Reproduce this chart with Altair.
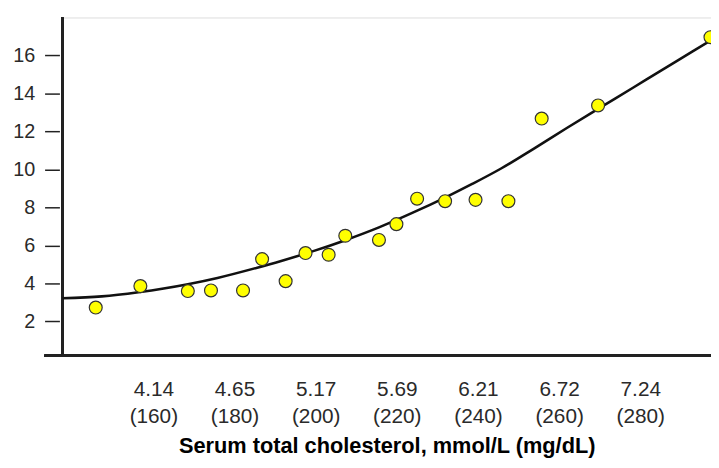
import altair as alt
import pandas as pd

# Scatter data: serum cholesterol (mg/dL) vs rate
chol_mg = [145.8, 156.8, 168.5, 174.2, 182.1, 186.8, 192.6, 197.5, 203.2, 207.3,
           215.6, 219.9, 225.0, 231.9, 239.4, 247.5, 255.7, 269.6, 297.3]
rate = [2.73, 3.86, 3.60, 3.63, 3.63, 5.28, 4.12, 5.60, 5.51, 6.51,
        6.29, 7.12, 8.46, 8.33, 8.40, 8.33, 12.68, 13.37, 16.96]

# Fitted curve
curve_mg = [137.6, 147.3, 156.3, 168.5, 175.8, 185.6, 191.3, 199.4, 207.5, 215.6,
            223.8, 231.9, 238.7, 245.7, 253.8, 261.9, 270.1, 278.2, 284.7, 292.8, 297.4]
curve_rate = [3.22, 3.32, 3.54, 3.96, 4.29, 4.83, 5.17, 5.70, 6.29, 6.95,
              7.71, 8.52, 9.25, 10.05, 11.10, 12.18, 13.25, 14.30, 15.15, 16.20, 16.80]

# Tick labels
x_tick_mg = [160, 180, 200, 220, 240, 260, 280]
x_tick_mmol = ["4.14", "4.65", "5.17", "5.69", "6.21", "6.72", "7.24"]
y_ticks = [2, 4, 6, 8, 10, 12, 14, 16]

x_title = "Serum total cholesterol, mmol/L (mg/dL)"

pts = pd.DataFrame({"mg": chol_mg, "rate": rate})
crv = pd.DataFrame({"mg": curve_mg, "rate": curve_rate})

expr = ""
for mg, mm in zip(x_tick_mg, x_tick_mmol):
    expr += f"datum.value == {mg} ? ['{mm}', '({mg})'] : "
expr += "''"

FONT = "Liberation Sans"
xscale = alt.Scale(domain=[137.58, 297.43], nice=False, zero=False)
yscale = alt.Scale(domain=[0.2, 18], nice=False, zero=False)

x_enc = alt.X("mg:Q", scale=xscale, axis=alt.Axis(
    values=x_tick_mg, labelExpr=expr, domain=False, ticks=False, grid=False,
    labelFont=FONT, labelFontSize=21, labelColor="#2a2a2a", labelLineHeight=28,
    labelPadding=23, labelBaseline="top", labelFlush=False, labelOverlap=False,
    title=x_title, titleFont=FONT, titleFontSize=22, titleFontWeight="bold",
    titleColor="#000", titlePadding=9))
y_enc = alt.Y("rate:Q", scale=yscale, axis=alt.Axis(
    values=y_ticks, domain=False, grid=False, offset=3, tickSize=15,
    tickColor="#222", tickWidth=1.5, labelFont=FONT, labelFontSize=20,
    labelColor="#2a2a2a", labelPadding=10, title=None))

line = alt.Chart(crv).mark_line(color="#111", strokeWidth=2.6,
                                interpolate="monotone").encode(x=x_enc, y=y_enc)
points = alt.Chart(pts).mark_point(filled=True, fill="#FFFF00", stroke="#333",
                                   strokeWidth=1.2, opacity=1, size=170).encode(
    x="mg:Q", y="rate:Q")

yaxis_line = alt.Chart(pts).mark_rule(color="#222", strokeWidth=1.8).encode(
    x=alt.value(0), y=alt.value(0), y2=alt.value(342))
xaxis_line = alt.Chart(pts).mark_rule(color="#222", strokeWidth=1.8).encode(
    x=alt.value(-18), x2=alt.value(656), y=alt.value(342))

chart = alt.layer(yaxis_line, xaxis_line, line, points).properties(
    width=656, height=342,
    autosize=alt.AutoSizeParams(type="none"),
    padding={"left": 55, "top": 7, "right": 0, "bottom": 104},
).configure_view(stroke=None).configure(background="white")

chart.save("out.html", embed_options={"renderer": "svg", "actions": False})
